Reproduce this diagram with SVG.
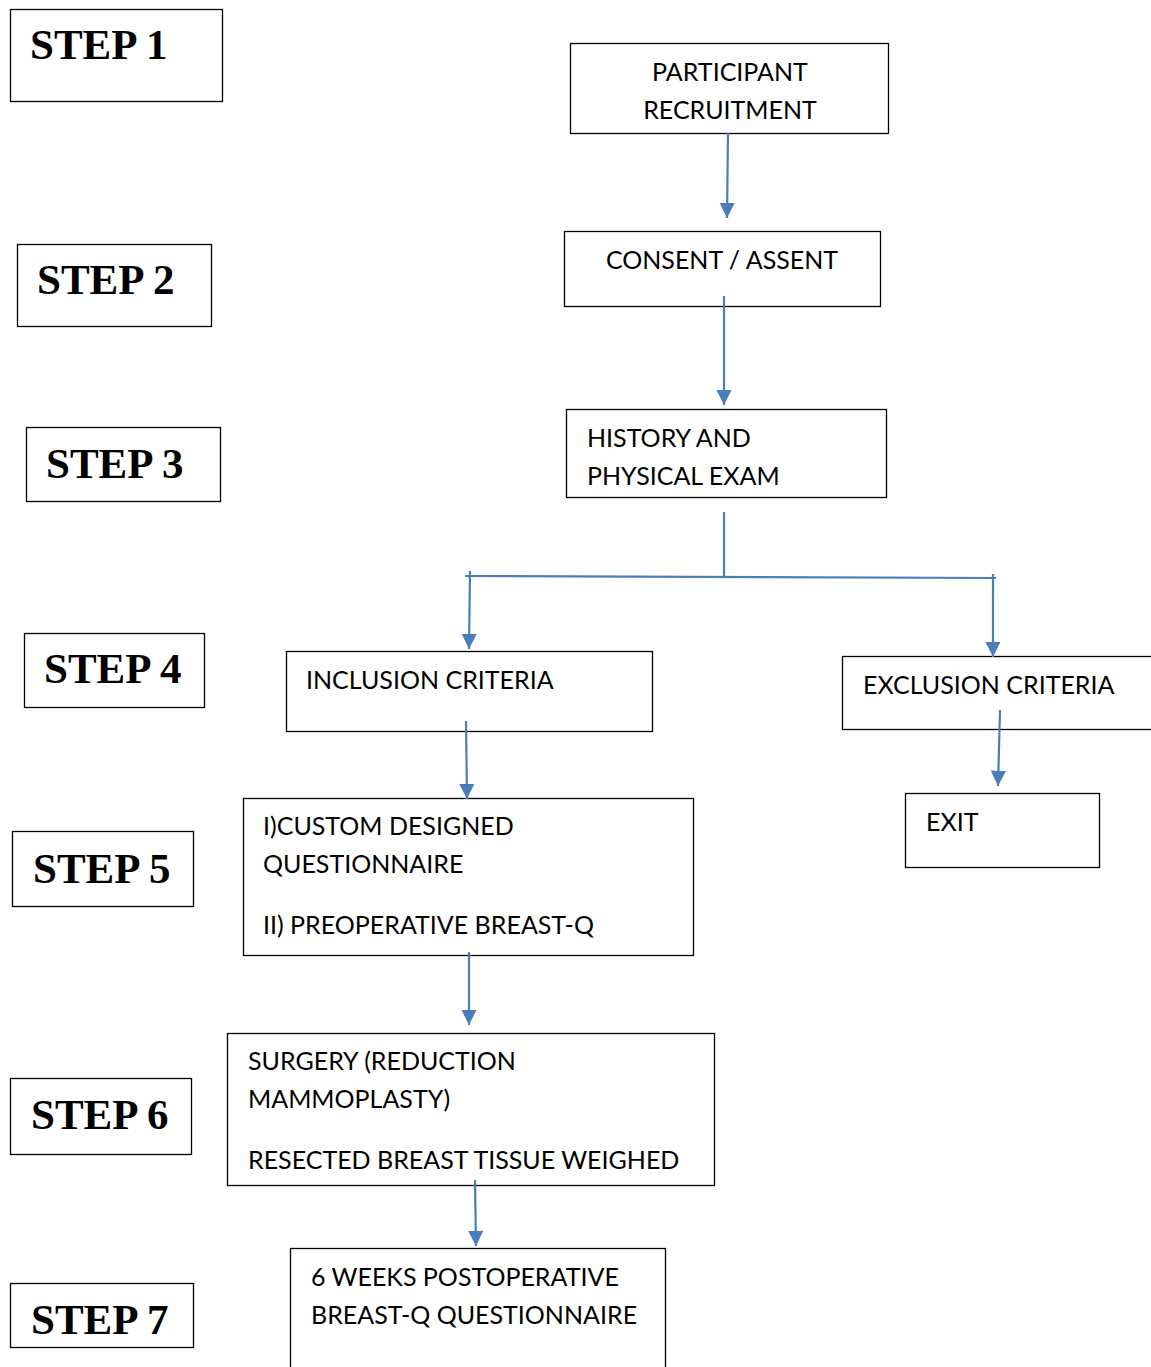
<svg xmlns="http://www.w3.org/2000/svg" width="1151" height="1367" viewBox="0 0 1151 1367">
<defs>
<style>
.box{fill:#fff;stroke:#000;stroke-width:1.3}
.step{font-family:"Liberation Serif","Times New Roman",serif;font-weight:bold;font-size:43px;fill:#000}
.t{font-family:Lato,"Open Sans",sans-serif;font-size:25px;fill:#000}
.c{stroke:#4a7ebb;stroke-width:2.2;fill:none}
</style>
<marker id="ah" viewBox="0 0 10 10" refX="10" refY="5" markerWidth="7" markerHeight="7" markerUnits="strokeWidth" orient="auto">
<path d="M0,0 L10,5 L0,10 z" fill="#4a7ebb"/>
</marker>
</defs>
<rect width="1151" height="1367" fill="#fff"/>
<g id="step1"><rect class="box" x="10.5" y="9.5" width="212" height="92"/><text class="step" x="30" y="59">STEP 1</text></g>
<g id="step2"><rect class="box" x="17.5" y="244.5" width="194" height="82"/><text class="step" x="37" y="294">STEP 2</text></g>
<g id="step3"><rect class="box" x="26.5" y="427.5" width="194" height="74"/><text class="step" x="46" y="478">STEP 3</text></g>
<g id="step4"><rect class="box" x="24.5" y="633.5" width="180" height="74"/><text class="step" x="44" y="683">STEP 4</text></g>
<g id="step5"><rect class="box" x="12.5" y="831.5" width="181" height="75"/><text class="step" x="33" y="883">STEP 5</text></g>
<g id="step6"><rect class="box" x="10.5" y="1078.5" width="181" height="76"/><text class="step" x="31" y="1129">STEP 6</text></g>
<g id="step7"><rect class="box" x="10.5" y="1283.5" width="183" height="64"/><text class="step" x="31" y="1334">STEP 7</text></g>

<g id="recruit"><rect class="box" x="570.5" y="43.5" width="318" height="90"/><text class="t" x="730" y="81" text-anchor="middle">PARTICIPANT</text><text class="t" x="730" y="119" text-anchor="middle">RECRUITMENT</text></g>
<g id="consent"><rect class="box" x="564.5" y="231.5" width="316" height="75"/><text class="t" x="722" y="269" text-anchor="middle">CONSENT / ASSENT</text></g>
<g id="history"><rect class="box" x="566.5" y="409.5" width="320" height="88"/><text class="t" x="587" y="447">HISTORY AND</text><text class="t" x="587" y="485">PHYSICAL EXAM</text></g>
<g id="inclusion"><rect class="box" x="286.5" y="651.5" width="366" height="80"/><text class="t" x="306" y="689">INCLUSION CRITERIA</text></g>
<g id="exclusion"><rect class="box" x="842.5" y="656.5" width="320" height="73"/><text class="t" x="863" y="694">EXCLUSION CRITERIA</text></g>
<g id="exit"><rect class="box" x="905.5" y="793.5" width="194" height="74"/><text class="t" x="926" y="831">EXIT</text></g>
<g id="questionnaire"><rect class="box" x="243.5" y="798.5" width="450" height="157"/><text class="t" x="263" y="835">I)CUSTOM DESIGNED</text><text class="t" x="263" y="873">QUESTIONNAIRE</text><text class="t" x="263" y="934">II) PREOPERATIVE BREAST-Q</text></g>
<g id="surgery"><rect class="box" x="227.5" y="1033.5" width="487" height="152"/><text class="t" x="248" y="1070">SURGERY (REDUCTION</text><text class="t" x="248" y="1108">MAMMOPLASTY)</text><text class="t" x="248" y="1169">RESECTED BREAST TISSUE WEIGHED</text></g>
<g id="postop"><rect class="box" x="290.5" y="1248.5" width="375" height="130"/><text class="t" x="311" y="1286">6 WEEKS POSTOPERATIVE</text><text class="t" x="311" y="1324">BREAST-Q QUESTIONNAIRE</text></g>

<g id="connectors">
<line class="c" x1="728" y1="133" x2="727" y2="218" marker-end="url(#ah)"/>
<line class="c" x1="724" y1="296" x2="724" y2="405" marker-end="url(#ah)"/>
<line class="c" x1="724" y1="512" x2="724" y2="577"/>
<line class="c" x1="465" y1="576" x2="996" y2="578"/>
<line class="c" x1="470" y1="571" x2="469" y2="649" marker-end="url(#ah)"/>
<line class="c" x1="993" y1="574" x2="993" y2="657" marker-end="url(#ah)"/>
<line class="c" x1="466" y1="721" x2="467" y2="799" marker-end="url(#ah)"/>
<line class="c" x1="1000" y1="710" x2="998" y2="786" marker-end="url(#ah)"/>
<line class="c" x1="469" y1="952" x2="469" y2="1025" marker-end="url(#ah)"/>
<line class="c" x1="475" y1="1180" x2="476" y2="1246" marker-end="url(#ah)"/>
</g>
</svg>
